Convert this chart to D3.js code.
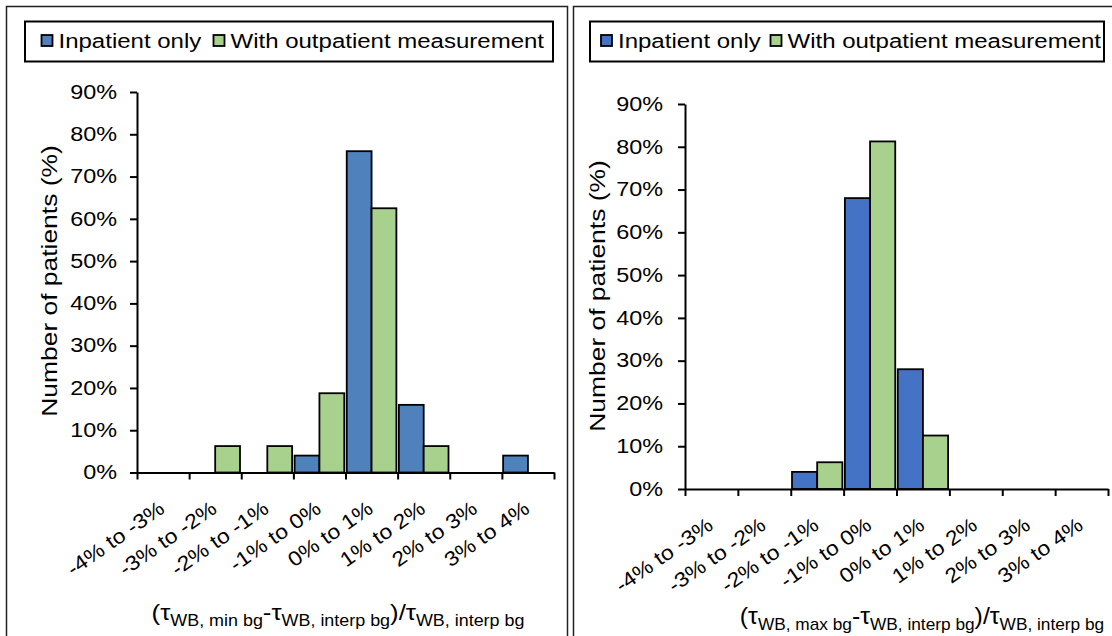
<!DOCTYPE html>
<html>
<head>
<meta charset="utf-8">
<script src="https://cdn.jsdelivr.net/npm/d3@7"></script>
<style>
  body { margin: 0; background: #fff; }
  svg { display: block; font-family: "Liberation Sans", Arial, sans-serif; }
</style>
</head>
<body>
<svg id="chart" width="1112" height="636"></svg>
<script>
var categories = ['-4% to -3%', '-3% to -2%', '-2% to -1%', '-1% to 0%', '0% to 1%', '1% to 2%', '2% to 3%', '3% to 4%']
var seriesNames = ['Inpatient only', 'With outpatient measurement']
var yTicks = [0, 10, 20, 30, 40, 50, 60, 70, 80, 90]

// min bg panel (left)
var minInpatient = [0, 0, 0, 4, 76, 16, 0, 4]
var minOutpatient = [0, 6.25, 6.25, 18.75, 62.5, 6.25, 0, 0]
// max bg panel (right)
var maxInpatient = [0, 0, 4, 68, 28, 0, 0, 0]
var maxOutpatient = [0, 0, 6.25, 81.25, 12.5, 0, 0, 0]

var green = '#a9d18e'
var svg = d3.select('#chart')

// widen text a bit, the reference is drawn with a stretched font
function stretch(sel, k) {
    sel.each(function() {
        var w = this.getComputedTextLength()
        d3.select(this).attr('textLength', w * k).attr('lengthAdjust', 'spacingAndGlyphs')
    })
}

function drawPanel(p) {
    var g = svg.append('g')

    // frame
    g.append('rect')
        .attr('x', p.frame[0]).attr('y', 6.5)
        .attr('width', p.frame[1] - p.frame[0]).attr('height', 700)
        .attr('fill', 'none').attr('stroke', '#222').attr('stroke-width', 1.5)

    // legend
    g.append('rect')
        .attr('x', p.legend[0]).attr('y', 21.5)
        .attr('width', p.legend[1] - p.legend[0]).attr('height', 40)
        .attr('fill', '#fff').attr('stroke', '#000').attr('stroke-width', 2)
    var colors = [p.blue, green]
    seriesNames.forEach(function(name, i) {
        var lx = p.legendItems[i]
        g.append('rect')
            .attr('x', lx).attr('y', 35).attr('width', 11).attr('height', 11)
            .attr('fill', colors[i]).attr('stroke', '#000').attr('stroke-width', 1.8)
        g.append('text')
            .attr('x', lx + 17).attr('y', 48)
            .attr('font-size', 20).attr('fill', '#000')
            .text(name)
            .call(stretch, 1.2)
    })

    var y = d3.scaleLinear().domain([0, 90]).range([p.y0, p.y1])
    var x = d3.scaleBand().domain(categories).range([p.x0, p.x1]).padding(0)
    var xs = d3.scaleBand().domain([0, 1]).range([0, x.bandwidth()]).paddingInner(0).paddingOuter(0.05)
    var xEdge = d3.scaleLinear().domain([0, categories.length]).range([p.x0, p.x1])

    // bars
    var series = [p.inpatient, p.outpatient]
    series.forEach(function(vals, si) {
        g.append('g').selectAll('rect')
            .data(vals.map(function(v, i) { return {c: categories[i], v: v} }).filter(function(d) { return d.v > 0 }))
            .enter().append('rect')
            .attr('x', function(d) { return x(d.c) + xs(si) })
            .attr('y', function(d) { return y(d.v) })
            .attr('width', xs.bandwidth())
            .attr('height', function(d) { return y(0) - y(d.v) })
            .attr('fill', colors[si])
            .attr('stroke', '#000').attr('stroke-width', 1.8)
    })

    // y axis
    var ya = g.append('g').attr('transform', 'translate(' + p.x0 + ',0)')
        .call(d3.axisLeft(y).tickValues(yTicks).tickFormat(function(d) { return d + '%' })
            .tickSizeInner(7).tickSizeOuter(0).tickPadding(p.yPad))
    ya.select('.domain').attr('stroke-width', 2)
    ya.selectAll('.tick line').attr('stroke-width', 2)
    ya.selectAll('.tick text').attr('font-size', 19.5).attr('font-family', null).attr('fill', '#000').call(stretch, 1.2)

    // x axis edges
    var xa = g.append('g').attr('transform', 'translate(0,' + p.y0 + ')')
        .call(d3.axisBottom(xEdge).tickValues(d3.range(categories.length + 1)).tickFormat('')
            .tickSizeInner(7).tickSizeOuter(0))
    xa.select('.domain').attr('stroke-width', 2)
    xa.selectAll('.tick line').attr('stroke-width', 2)

    // x labels
    var xl = g.append('g').attr('transform', 'translate(0,' + p.y0 + ')')
        .call(d3.axisBottom(x).tickSize(0))
    xl.select('.domain').remove()
    xl.selectAll('.tick text')
        .attr('font-size', 20.5).attr('font-family', null).attr('fill', '#000')
        .attr('text-anchor', 'end').attr('dy', null).attr('y', 0)
        .attr('transform', 'translate(3,39) rotate(-35)')
        .call(stretch, 1.12)

    // y title
    g.append('text')
        .attr('transform', 'translate(' + p.yTitle[0] + ',' + p.yTitle[1] + ') rotate(-90)')
        .attr('text-anchor', 'middle').attr('font-size', 22).attr('fill', '#000')
        .text('Number of patients (%)')
        .call(stretch, 1.2)

    // x title
    var t = g.append('g').attr('transform', 'translate(' + p.xTitle[0] + ',' + p.xTitle[1] + ') scale(' + p.xTitle[2] + ',1)')
        .append('text').attr('text-anchor', 'middle').attr('font-size', 23).attr('fill', '#000')
    var parts = [['(τ', 0], ['WB, ' + p.kind + ' bg', 1], ['-τ', 0], ['WB, interp bg', 1], [')/τ', 0], ['WB, interp bg', 1]]
    var level = 0
    parts.forEach(function(pt) {
        var dy = pt[1] - level
        level = pt[1]
        t.append('tspan')
            .attr('dy', dy * 6)
            .attr('font-size', pt[1] ? 16 : 23)
            .text(pt[0])
    })
}

drawPanel({
    kind: 'min', frame: [6.5, 567.5], legend: [25, 553], legendItems: [41.5, 213.5],
    blue: '#4f81bd', inpatient: minInpatient, outpatient: minOutpatient,
    x0: 137, x1: 554, y0: 472.5, y1: 92, yPad: 13,
    yTitle: [57, 281], xTitle: [338, 620, 1.12]
})

drawPanel({
    kind: 'max', frame: [573.5, 1140], legend: [590, 1104], legendItems: [601, 770.5],
    blue: '#4472c4', inpatient: maxInpatient, outpatient: maxOutpatient,
    x0: 685, x1: 1108, y0: 489, y1: 104, yPad: 15,
    yTitle: [605, 296], xTitle: [922, 624, 1.08]
})
</script>
</body>
</html>
